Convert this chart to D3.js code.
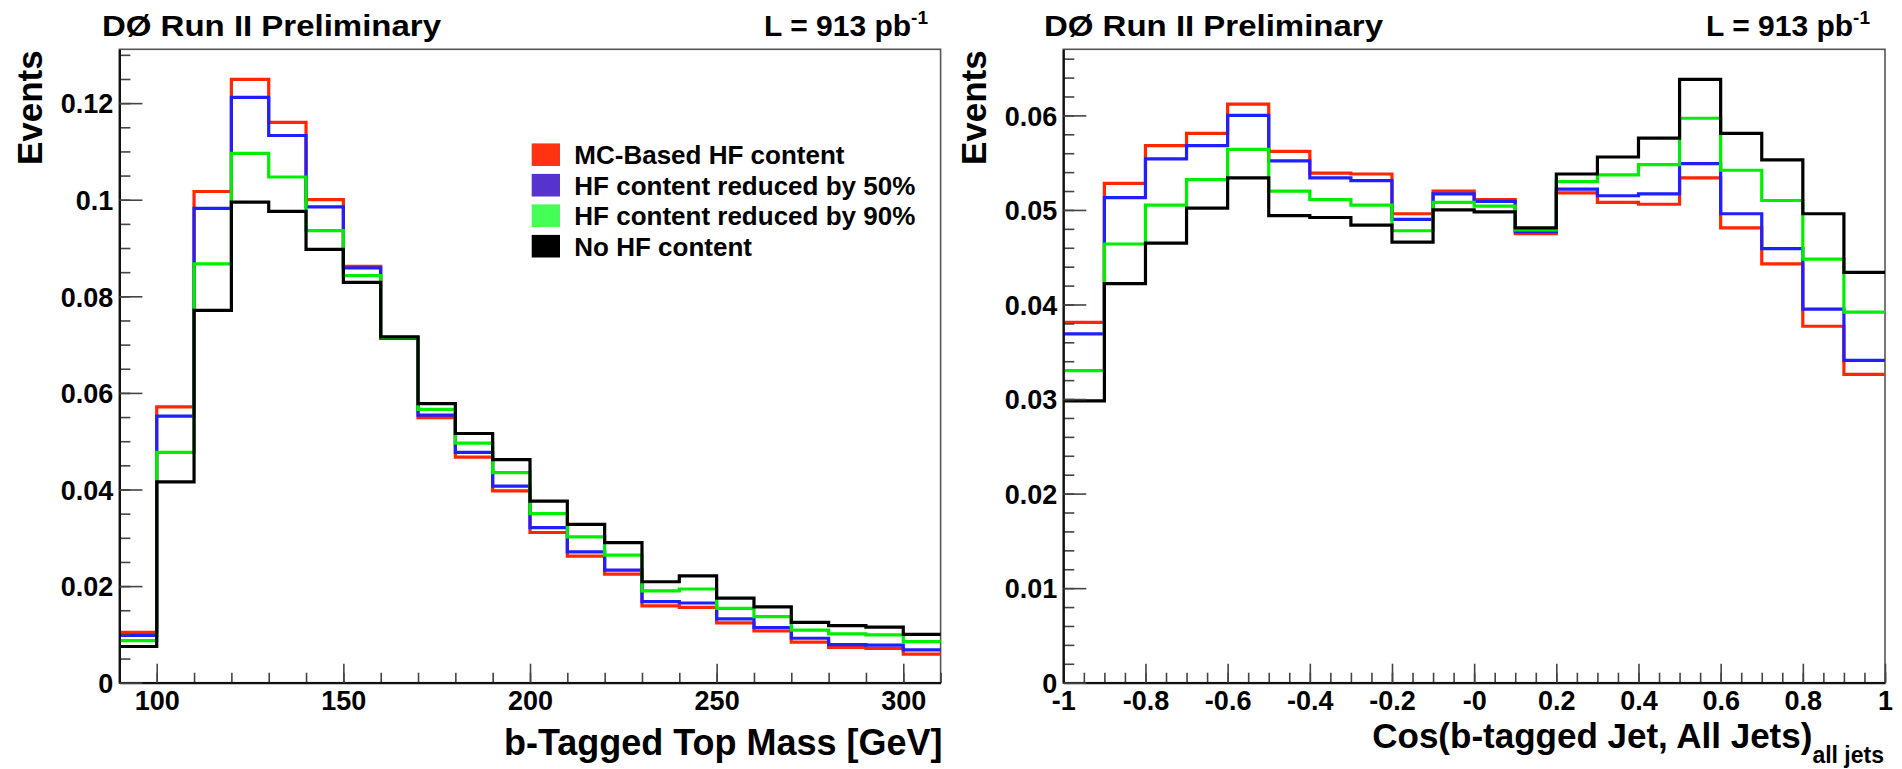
<!DOCTYPE html>
<html>
<head>
<meta charset="utf-8">
<script src="https://cdn.jsdelivr.net/npm/d3@7/dist/d3.min.js"></script>
<style>
  html, body { margin: 0; padding: 0; background: #fff; }
  svg { display: block; }
  text { font-family: "Liberation Sans", Arial, Helvetica, sans-serif; font-weight: bold; fill: #000; }
</style>
</head>
<body>
<svg id="chart" width="1902" height="769"></svg>
<script>
// ---------------- DATA ----------------
const seriesNames = ["MC-Based HF content", "HF content reduced by 50%", "HF content reduced by 90%", "No HF content"];
const lineColors = ["#ff2600", "#1f1fff", "#00ee00", "#000000"];
const legendColors = ["#ff3311", "#5533cc", "#44ff55", "#000000"];

// Left panel: b-tagged top mass, bins of 10 GeV
const massEdges = [90,100,110,120,130,140,150,160,170,180,190,200,210,220,230,240,250,260,270,280,290,300,310];
const massRed   = [0.0104,0.0571,0.1017,0.1249,0.1160,0.1000,0.0862,0.0713,0.0549,0.0467,0.0397,0.0311,0.0262,0.0225,0.0159,0.0156,0.0124,0.0107,0.0084,0.0073,0.0071,0.0059];
const massBlue  = [0.0098,0.0552,0.0982,0.1212,0.1133,0.0985,0.0859,0.0714,0.0554,0.0477,0.0407,0.0321,0.0271,0.0233,0.0168,0.0165,0.0132,0.0114,0.0092,0.0079,0.0078,0.0068];
const massGreen = [0.0087,0.0477,0.0867,0.1096,0.1047,0.0936,0.0843,0.0715,0.0566,0.0496,0.0435,0.0350,0.0302,0.0264,0.0190,0.0194,0.0154,0.0137,0.0109,0.0101,0.0099,0.0085];
const massBlack = [0.0075,0.0416,0.0771,0.0995,0.0976,0.0897,0.0829,0.0716,0.0578,0.0516,0.0462,0.0376,0.0328,0.0290,0.0209,0.0221,0.0175,0.0157,0.0125,0.0118,0.0115,0.0100];

// Right panel: cos(b-tagged jet, all jets), bins of 0.1
const cosEdges = [-1,-0.9,-0.8,-0.7,-0.6,-0.5,-0.4,-0.3,-0.2,-0.1,0,0.1,0.2,0.3,0.4,0.5,0.6,0.7,0.8,0.9,1];
const cosRed   = [0.0381,0.0528,0.0568,0.0581,0.0612,0.0562,0.0539,0.0538,0.0496,0.0520,0.0511,0.0475,0.0518,0.0508,0.0506,0.0534,0.0481,0.0443,0.0377,0.0326];
const cosBlue  = [0.0369,0.0513,0.0554,0.0568,0.0600,0.0552,0.0534,0.0531,0.0490,0.0517,0.0509,0.0477,0.0522,0.0515,0.0517,0.0549,0.0496,0.0459,0.0395,0.0341];
const cosGreen = [0.0330,0.0464,0.0505,0.0532,0.0564,0.0520,0.0511,0.0505,0.0478,0.0508,0.0504,0.0479,0.0530,0.0537,0.0548,0.0597,0.0542,0.0510,0.0448,0.0392];
const cosBlack = [0.0298,0.0422,0.0465,0.0502,0.0534,0.0494,0.0492,0.0484,0.0466,0.0500,0.0498,0.0481,0.0538,0.0556,0.0576,0.0638,0.0581,0.0553,0.0496,0.0434];

// Tick values and labels
const massXTicks = [100,150,200,250,300];
const massXLabels = ["100","150","200","250","300"];
const massYTicks = [0,0.02,0.04,0.06,0.08,0.1,0.12];
const massYLabels = ["0","0.02","0.04","0.06","0.08","0.1","0.12"];
const cosXTicks = [-1,-0.8,-0.6,-0.4,-0.2,0,0.2,0.4,0.6,0.8,1];
const cosXLabels = ["-1","-0.8","-0.6","-0.4","-0.2","-0","0.2","0.4","0.6","0.8","1"];
const cosYTicks = [0,0.01,0.02,0.03,0.04,0.05,0.06];
const cosYLabels = ["0","0.01","0.02","0.03","0.04","0.05","0.06"];

const titleText = "D\u00d8 Run II Preliminary";
const lumiText = "L = 913 pb";
const lumiSup = "-1";

// ---------------- LAYOUT ----------------
const svg = d3.select("#chart");
const frameTop = 49.3, frameBottom = 682.7;

const panels = [
  {
    x0: 119.4, x1: 940.6, edges: massEdges,
    series: [massRed, massBlue, massGreen, massBlack],
    xTicks: massXTicks, xLabels: massXLabels, xMinorStep: 10,
    yTicks: massYTicks, yLabels: massYLabels, yMinorStep: 0.005,
    xTitle: "b-Tagged Top Mass [GeV]", xSub: null,
    titleX: 102, lumiEnd: 928, legend: true
  },
  {
    x0: 1063.3, x1: 1885, edges: cosEdges,
    series: [cosRed, cosBlue, cosGreen, cosBlack],
    xTicks: cosXTicks, xLabels: cosXLabels, xMinorStep: 0.05,
    yTicks: cosYTicks, yLabels: cosYLabels, yMinorStep: 0.002,
    xTitle: "Cos(b-tagged Jet, All Jets)", xSub: "all jets",
    titleX: 1044, lumiEnd: 1870, legend: false
  }
];

panels.forEach(p => {
  const g = svg.append("g");
  const xDom = [p.edges[0], p.edges[p.edges.length - 1]];
  const ymax = 1.05 * d3.max(p.series.flat());
  const x = d3.scaleLinear().domain(xDom).range([p.x0, p.x1]);
  const y = d3.scaleLinear().domain([0, ymax]).range([frameBottom, frameTop]);

  // frame (top/right)
  g.append("rect")
    .attr("x", p.x0).attr("y", frameTop)
    .attr("width", p.x1 - p.x0).attr("height", frameBottom - frameTop)
    .attr("fill", "none").attr("stroke", "#555").attr("stroke-width", 1.6);

  // histograms
  const line = d3.line().x(d => x(d[0])).y(d => y(d[1])).curve(d3.curveStepAfter);
  p.series.forEach((vals, si) => {
    const pts = vals.map((v, i) => [p.edges[i], v]);
    pts.push([p.edges[vals.length], vals[vals.length - 1]]);
    g.append("path").attr("d", line(pts))
      .attr("fill", "none").attr("stroke", lineColors[si])
      .attr("stroke-width", 3.2).attr("stroke-linejoin", "miter");
  });

  // minor ticks (no labels)
  const xMinor = d3.range(xDom[0], xDom[1] + 1e-9, p.xMinorStep);
  const yMinor = d3.range(0, ymax, p.yMinorStep);
  const xMinAxis = d3.axisBottom(x).tickValues(xMinor).tickSizeInner(-10).tickSizeOuter(0).tickFormat("");
  const yMinAxis = d3.axisLeft(y).tickValues(yMinor).tickSizeInner(-11).tickSizeOuter(0).tickFormat("");
  const gxm = g.append("g").attr("transform", `translate(0,${frameBottom})`).call(xMinAxis);
  const gym = g.append("g").attr("transform", `translate(${p.x0},0)`).call(yMinAxis);
  [gxm, gym].forEach(a => {
    a.select(".domain").remove();
    a.selectAll("text").remove();
    a.selectAll("line").attr("stroke", "#444").attr("stroke-width", 1.6);
  });

  // major ticks + labels
  const xAxis = d3.axisBottom(x).tickValues(p.xTicks).tickSizeInner(-19).tickSizeOuter(0)
    .tickPadding(8).tickFormat((d, i) => p.xLabels[i]);
  const yAxis = d3.axisLeft(y).tickValues(p.yTicks).tickSizeInner(-23).tickSizeOuter(0)
    .tickPadding(6).tickFormat((d, i) => p.yLabels[i]);
  const gx = g.append("g").attr("transform", `translate(0,${frameBottom})`).call(xAxis);
  const gy = g.append("g").attr("transform", `translate(${p.x0},0)`).call(yAxis);
  [gx, gy].forEach(a => {
    a.select(".domain").attr("stroke", "#111").attr("stroke-width", 2.2);
    a.selectAll("line").attr("stroke", "#444").attr("stroke-width", 1.6);
    a.selectAll("text").attr("font-size", 27).attr("font-family", null).attr("fill", "#000");
  });
  gy.selectAll("text").attr("dy", "0.36em");

  // axis titles
  if (p.xSub) {
    const t = g.append("text").attr("x", p.x1 - 1).attr("y", 748).attr("text-anchor", "end");
    t.append("tspan").attr("font-size", 35).text(p.xTitle);
    t.append("tspan").attr("font-size", 23).attr("dy", 15).text(p.xSub);
  } else {
    g.append("text").attr("x", p.x1 + 2).attr("y", 755).attr("text-anchor", "end")
      .attr("font-size", 36).text(p.xTitle);
  }
  g.append("text")
    .attr("transform", `translate(${p.x0 - 77},${frameTop + 1}) rotate(-90)`)
    .attr("text-anchor", "end").attr("font-size", 35).text("Events");

  // panel header
  g.append("text").attr("x", p.titleX).attr("y", 36).attr("font-size", 30)
    .attr("textLength", 339).attr("lengthAdjust", "spacingAndGlyphs").text(titleText);
  const lt = g.append("text").attr("x", p.lumiEnd).attr("y", 36).attr("text-anchor", "end");
  lt.append("tspan").attr("font-size", 30).text(lumiText);
  lt.append("tspan").attr("font-size", 19).attr("dy", -12).text(lumiSup);

  // legend
  if (p.legend) {
    const lg = g.append("g");
    seriesNames.forEach((name, i) => {
      const cy = 154.7 + 30.5 * i;
      lg.append("rect").attr("x", 531.7).attr("y", cy - 11.3).attr("width", 28.3).attr("height", 22.6)
        .attr("fill", legendColors[i]);
      lg.append("text").attr("x", 574.3).attr("y", cy + 9.5).attr("font-size", 26).text(name);
    });
  }
});
</script>
</body>
</html>
